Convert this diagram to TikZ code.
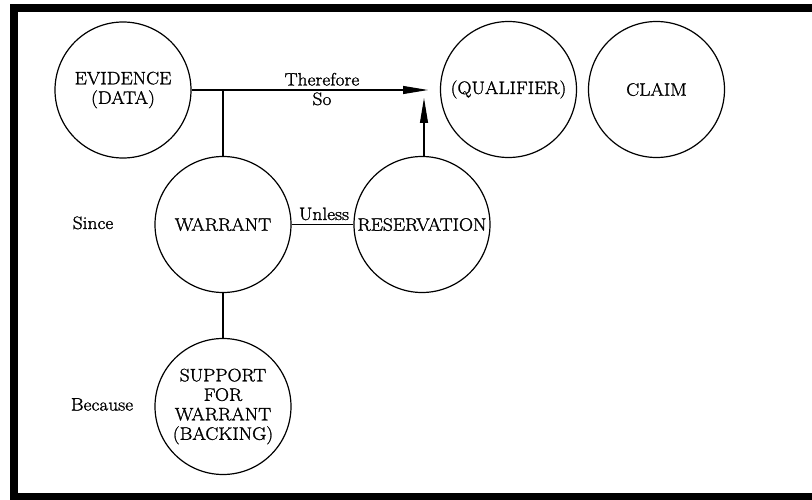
\documentclass[tikz,border=0pt]{standalone}
\usepackage{fontspec}
\setmainfont{Latin Modern Roman}[FakeBold=1.3, FakeStretch=1.08]
\usetikzlibrary{arrows.meta}
\begin{document}
\begin{tikzpicture}[x=1pt,y=-1pt,
  idea/.style={draw, circle, line width=1.2pt, minimum size=136pt, inner sep=0pt,
    align=center, font=\fontsize{18}{19.5}\selectfont},
  link/.style={line width=1.1pt},
  push/.style={link, -{Triangle[length=25pt,width=8pt]}},
  word/.style={anchor=base, inner sep=0pt, font=\fontsize{18}{19.5}\selectfont}]
\useasboundingbox (0,0) rectangle (812,500);
% page frame
\fill (10,4) rectangle (812,12);
\fill (10,4) rectangle (18,500);
\fill (10,493) rectangle (812,500);
% the six elements of the argument
\node[idea] (ev) at (123,90) {EVIDENCE\\(DATA)};
\node[idea] (qual) at (508.5,89.5) {(QUALIFIER)};
\node[idea] (claim) at (656.5,89.5) {CLAIM};
\node[idea] (war) at (223,224.5) {WARRANT};
\node[idea] (res) at (422,224.5) {RESERVATION};
\node[idea] (sup) at (223,406.5) {SUPPORT\\FOR\\WARRANT\\(BACKING)};
% connectors
\coordinate (tipH) at (428,90);
\coordinate (tipV) at (424,98);
\draw[push] (ev.east) -- (tipH);
\draw[link] (war.north) -- (war.north |- ev.east);
\draw[push] (res.north -| tipV) -- (tipV);
\draw[link] (war.east) -- (res.west);
\draw[link] (war.south) -- (sup.north);
% connective words
\node[word] (therefore) at (322,85.5) {Therefore};
\node[word] (so) at (322,105) {So};
\node[word] (unless) at (324,220) {Unless};
\node[word] (since) at (93,229) {Since};
\node[word] (because) at (102,410.5) {Because};
\end{tikzpicture}
\end{document}
